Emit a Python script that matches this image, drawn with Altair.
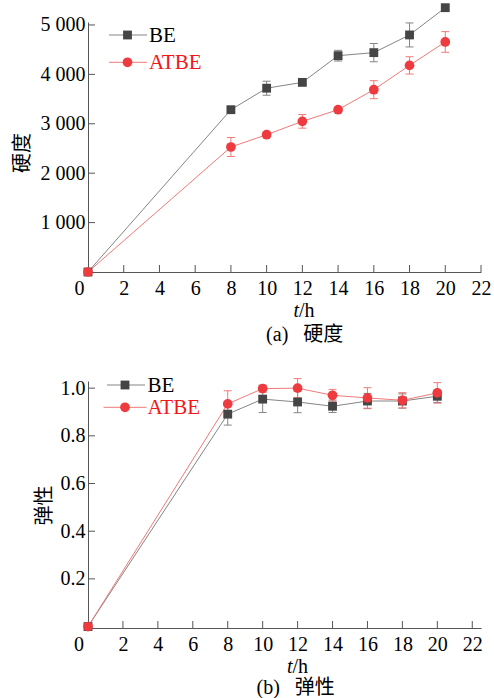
import altair as alt
import pandas as pd

# ---------------- data ----------------
t = [0, 8, 10, 12, 14, 16, 18, 20]
series = ["BE", "ATBE"]

be_hard = [0, 3285, 3720, 3838, 4378, 4440, 4798, 5350]
be_hard_err = [0, 40, 142, 50, 108, 185, 243, 40]
atbe_hard = [0, 2530, 2779, 3049, 3285, 3690, 4182, 4656]
atbe_hard_err = [0, 192, 40, 138, 40, 182, 175, 209]

be_spr = [0, 0.891, 0.954, 0.942, 0.924, 0.946, 0.946, 0.966]
be_spr_err = [0, 0.046, 0.056, 0.045, 0.026, 0.032, 0.030, 0.026]
atbe_spr = [0, 0.934, 0.998, 1.000, 0.970, 0.959, 0.949, 0.980]
atbe_spr_err = [0, 0.055, 0.015, 0.040, 0.025, 0.043, 0.032, 0.043]

x_ticks = [0, 2, 4, 6, 8, 10, 12, 14, 16, 18, 20, 22]
hard_ticks = [1000, 2000, 3000, 4000, 5000]
spr_ticks = [0.2, 0.4, 0.6, 0.8, 1.0]

# ---------------- style ----------------
SERIF = "'Liberation Serif', 'Times New Roman', 'Noto Sans CJK SC', serif"
AXIS_C = "#555555"
LINE_COLORS = ["#858585", "#f07a7a"]
MARK_COLORS = ["#454545", "#ee3b40"]
TEXT_COLORS = ["#000000", "#f01818"]
SHAPES = ["square", "circle"]
SIZES = [78, 95]
NB = "\u00a0"
LBL = 20


def panel(be, be_err, at, at_err, ydom, W, H, yticks, ylabel_expr, ytitle,
          ytitle_xy, xdom, legend, xtitle_xy, caption, caption_xy, label0_off):
    rows = []
    for name, vals, errs in [("BE", be, be_err), ("ATBE", at, at_err)]:
        for ti, v, e in zip(t, vals, errs):
            rows.append({"s": name, "t": ti, "v": v, "lo": v - e, "hi": v + e})
    df = pd.DataFrame(rows)

    X = alt.X("t:Q", scale=alt.Scale(domain=xdom, nice=False, zero=False),
              axis=alt.Axis(values=x_ticks, ticks=False, grid=False, title=None,
                            labelFont=SERIF, labelFontSize=LBL, labelColor="black",
                            labelPadding=6, labelFlush=False, labelOverlap=False,
                            domainColor=AXIS_C, domainWidth=1,
                            labelOffset={"condition": {"test": "datum.value === 0",
                                                       "value": label0_off},
                                         "value": 0}))

    def Y(field):
        return alt.Y(f"{field}:Q", scale=alt.Scale(domain=ydom, nice=False, zero=False),
                     axis=alt.Axis(values=yticks, ticks=False, grid=False, title=ytitle,
                                   labelExpr=ylabel_expr, labelFont=SERIF, labelFontSize=LBL,
                                   labelColor="black", labelPadding=3, labelFlush=False,
                                   labelOverlap=False, domainColor=AXIS_C, domainWidth=1,
                                   titleFont=SERIF, titleFontSize=20,
                                   titleFontWeight="normal", titleColor="black",
                                   titleAngle=270, titleAlign="center",
                                   titleBaseline="middle", titleX=ytitle_xy[0],
                                   titleY=ytitle_xy[1]))

    stroke = alt.Stroke("s:N", scale=alt.Scale(domain=series, range=LINE_COLORS), legend=None)
    base = alt.Chart(df)

    lines = base.mark_line(strokeWidth=1).encode(x=X, y=Y("v"), stroke=stroke,
                                                  order="t:Q")
    bars = base.mark_rule(strokeWidth=1).encode(x=X, y=Y("lo"), y2="hi:Q", stroke=stroke)
    cap_lo = base.mark_rule(strokeWidth=1, xOffset=-4, x2Offset=4).encode(
        x=X, x2="t:Q", y=Y("lo"), stroke=stroke)
    cap_hi = base.mark_rule(strokeWidth=1, xOffset=-4, x2Offset=4).encode(
        x=X, x2="t:Q", y=Y("hi"), stroke=stroke)

    pts = []
    for i, name in enumerate(series):
        pts.append(base.transform_filter(alt.datum.s == name)
                   .mark_point(shape=SHAPES[i], filled=True, size=SIZES[i],
                               color=MARK_COLORS[i], opacity=1)
                   .encode(x=X, y=Y("v")))

    # inward ticks
    xt = alt.Chart(pd.DataFrame({"t": x_ticks[1:]})).mark_rule(
        color=AXIS_C, strokeWidth=1).encode(x=X, y=alt.value(H), y2=alt.value(H - 7))
    yt = alt.Chart(pd.DataFrame({"v": yticks})).mark_rule(
        color=AXIS_C, strokeWidth=1).encode(y=Y("v"), x=alt.value(0), x2=alt.value(7))

    one = alt.Chart(pd.DataFrame({"a": [0]}))
    leg = []
    for i, name in enumerate(series):
        lx0, lx1, mx, tx, ly = legend[i]
        leg.append(one.mark_rule(color=LINE_COLORS[i], strokeWidth=1).encode(
            x=alt.value(lx0), x2=alt.value(lx1), y=alt.value(ly)))
        leg.append(one.mark_point(shape=SHAPES[i], filled=True, size=SIZES[i],
                                  color=MARK_COLORS[i], opacity=1).encode(
            x=alt.value(mx), y=alt.value(ly)))
        leg.append(one.mark_text(text=name, font=SERIF, fontSize=21,
                                 color=TEXT_COLORS[i], align="left",
                                 baseline="middle").encode(
            x=alt.value(tx), y=alt.value(ly + 1)))

    tx_, ty_ = xtitle_xy
    t_it = one.mark_text(text="t", font=SERIF, fontSize=20, fontStyle="italic",
                         align="right", baseline="middle", color="black").encode(
        x=alt.value(tx_), y=alt.value(ty_))
    t_h = one.mark_text(text="/h", font=SERIF, fontSize=20, align="left",
                        baseline="middle", color="black").encode(
        x=alt.value(tx_), y=alt.value(ty_))
    cap = one.mark_text(text=caption, font=SERIF, fontSize=20, align="center",
                        baseline="middle", color="black").encode(
        x=alt.value(caption_xy[0]), y=alt.value(caption_xy[1]))

    return alt.layer(lines, bars, cap_lo, cap_hi, *pts, xt, yt, *leg, t_it, t_h, cap
                     ).properties(width=W, height=H)


top = panel(be_hard, be_hard_err, atbe_hard, atbe_hard_err, [0, 5060], 393, 250,
            hard_ticks, "replace(format(datum.value, ','), ',', ' ')", "硬度",
            (-65.5, 130.5), [0, 22],
            [(21, 59, 39.5, 61, 13), (21, 59, 39.5, 61, 40.3)],
            (211, 289), "(a)" + NB * 3 + "硬度", (216.7, 313), -9)

bottom = panel(be_spr, be_spr_err, atbe_spr, atbe_spr_err, [-0.006, 1.03], 393, 247,
               spr_ticks, "format(datum.value, '.1f')", "弹性",
               (-43.8, 124), [0, 22.5],
               [(19, 57, 37, 59.5, 4), (15.5, 58.5, 37, 59.5, 26.3)],
               (204.5, 285.7), "(b)" + NB * 3 + "弹性", (207.7, 307.3), -9.5)

chart = alt.vconcat(top, bottom, spacing=109, bounds="flush").properties(
    padding={"left": 12, "top": 3, "right": 0, "bottom": 0}
).configure_view(stroke=None)

chart.save("out.html", embed_options={"renderer": "svg", "actions": False})
